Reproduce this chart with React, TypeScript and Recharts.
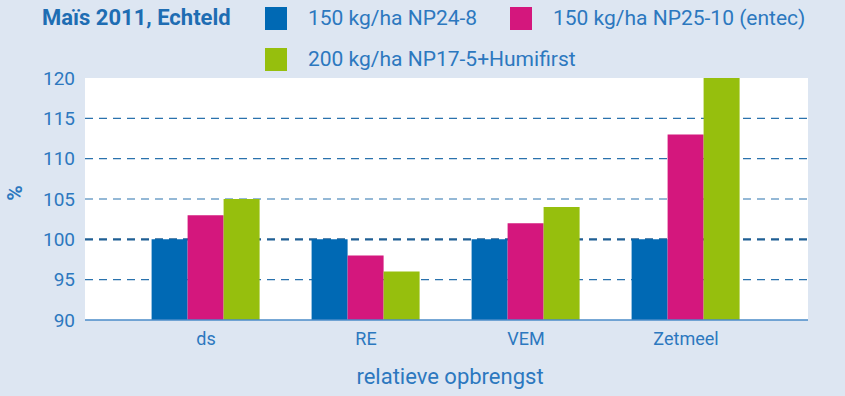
import React from "react";
import {
  BarChart,
  Bar,
  XAxis,
  YAxis,
  CartesianGrid,
} from "recharts";

const categories = ["ds", "RE", "VEM", "Zetmeel"];
const np24 = [100, 100, 100, 100];
const np25 = [103, 98, 102, 113];
const np17 = [105, 96, 104, 120];
const seriesNames = [
  "150 kg/ha NP24-8",
  "150 kg/ha NP25-10 (entec)",
  "200 kg/ha NP17-5+Humifirst",
];
const yTicks = [90, 95, 100, 105, 110, 115, 120];
const gridThin = [95, 105, 110, 115];
const gridMain = [100];

const COLORS = ["#0069b4", "#d4177d", "#96bf0d"];
const BG = "#dde6f2";
const TEXT = "#2c78bf";
const FONT = "'Liberation Sans Narrow', 'Roboto', sans-serif";

const data = categories.map((name, i) => ({
  name,
  a: np24[i],
  b: np25[i],
  c: np17[i],
}));

const LegendItem = ({ color, label, x, y }: { color: string; label: string; x: number; y: number }) => (
  <div style={{ position: "absolute", left: x, top: y, display: "flex", alignItems: "center" }}>
    <div style={{ width: 22, height: 23, background: color }} />
    <span style={{ marginLeft: 21, fontSize: 21, color: TEXT, fontFamily: FONT, lineHeight: "23px" }}>
      {label}
    </span>
  </div>
);

export default function App() {
  return (
    <div
      style={{
        position: "fixed",
        left: 0,
        top: 0,
        width: 845,
        height: 396,
        background: BG,
        fontFamily: FONT,
        overflow: "hidden",
      }}
    >
      <div
        style={{
          position: "absolute",
          left: 42,
          top: 5,
          fontSize: 22,
          fontWeight: "bold",
          color: "#1e6db3",
          lineHeight: "26px",
        }}
      >
        Maïs 2011, Echteld
      </div>
      <LegendItem color={COLORS[0]} label={seriesNames[0]} x={265} y={7} />
      <LegendItem color={COLORS[1]} label={seriesNames[1]} x={510} y={7} />
      <LegendItem color={COLORS[2]} label={seriesNames[2]} x={265} y={48} />

      <div style={{ position: "absolute", left: 0, top: 0 }}>
        <BarChart
          width={845}
          height={396}
          data={data}
          margin={{ top: 78, right: 37, bottom: 46, left: 35 }}
          barCategoryGap="16%"
          barGap={0}
        >
          <CartesianGrid fill="#ffffff" vertical={false} horizontal={false} />
          <CartesianGrid
            vertical={false}
            horizontalValues={gridThin}
            stroke="#2a72ad"
            strokeDasharray="8 6"
            strokeWidth={1.2}
          />
          <CartesianGrid
            vertical={false}
            horizontalValues={gridMain}
            stroke="#1f5f94"
            strokeDasharray="8 6"
            strokeWidth={2.2}
          />
          <XAxis
            dataKey="name"
            height={30}
            padding={{ left: 41, right: 42 }}
            tickLine={false}
            axisLine={{ stroke: "#4a8bc9", strokeWidth: 1.5 }}
            tick={{ fill: TEXT, fontSize: 18, fontFamily: FONT }}
            tickMargin={6}
          />
          <YAxis
            width={50}
            domain={[90, 120]}
            ticks={yTicks}
            allowDataOverflow
            axisLine={false}
            tickLine={false}
            tick={{ fill: TEXT, fontSize: 19, fontFamily: FONT }}
            tickMargin={4}
          />
          <Bar dataKey="a" name={seriesNames[0]} fill={COLORS[0]} isAnimationActive={false} />
          <Bar dataKey="b" name={seriesNames[1]} fill={COLORS[1]} isAnimationActive={false} />
          <Bar dataKey="c" name={seriesNames[2]} fill={COLORS[2]} isAnimationActive={false} />
        </BarChart>
      </div>

      <div
        style={{
          position: "absolute",
          left: 0,
          width: 900,
          top: 363,
          textAlign: "center",
          fontSize: 22,
          color: TEXT,
          lineHeight: "28px",
        }}
      >
        relatieve opbrengst
      </div>
      <div
        style={{
          position: "absolute",
          left: 3,
          top: 181,
          width: 24,
          height: 24,
          fontSize: 21,
          fontWeight: "bold",
          color: TEXT,
          transform: "rotate(-90deg)",
          textAlign: "center",
          lineHeight: "24px",
        }}
      >
        %
      </div>
    </div>
  );
}
